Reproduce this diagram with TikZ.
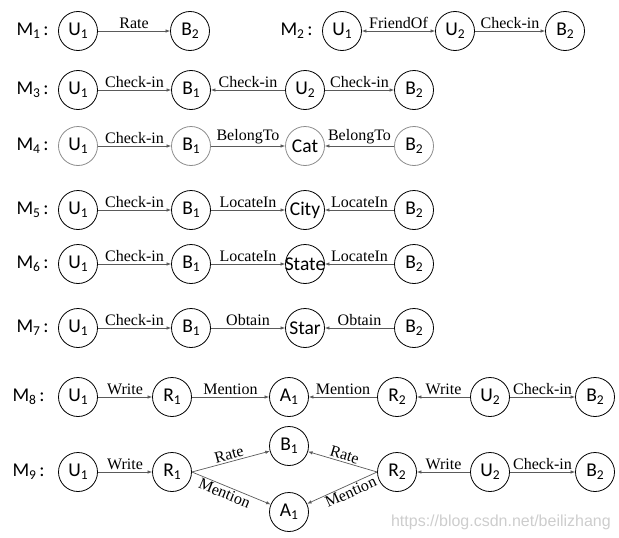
\documentclass[tikz,border=0pt]{standalone}
\usepackage{fontspec}
\setmainfont{Liberation Serif}
\newfontfamily\nodefont{Carlito}
\newfontfamily\markfont{Liberation Sans}
\usetikzlibrary{arrows.meta}
\definecolor{edgegray}{RGB}{90,90,90}
\definecolor{markgray}{RGB}{205,205,205}
\newcommand{\nsub}[1]{\raisebox{-.35ex}{\fontsize{13.5}{13.5}\selectfont #1}}
\tikzset{
 ent/.style={circle,draw,line width=.8pt,minimum size=39pt,inner sep=0pt,
  font=\nodefont\fontsize{19.5}{21}\selectfont},
 rel/.style={->,draw=edgegray,line width=.7pt},
 lab/.style={font=\fontsize{16}{18}\selectfont,inner sep=1.5pt},
 mlab/.style={anchor=west,font=\nodefont\fontsize{19.5}{21}\selectfont}
}

\begin{document}
\begin{tikzpicture}[x=1pt,y=-1pt,>={Latex[length=4.5pt,width=3.5pt]}]
 \useasboundingbox (0,0) rectangle (619,538);

 % M1 and M2 share the top line.
 \node[mlab] at (13,31) {M\nsub{1}\,:};
 \node[ent] (u11) at (78,31) {U\nsub{1}};
 \node[ent] (b12) at (190,31) {B\nsub{2}};
 \draw[rel] (u11) -- (b12) node[midway,above,lab] {Rate};

 \node[mlab] at (277,31) {M\nsub{2}\,:};
 \node[ent] (u21) at (342,31) {U\nsub{1}};
 \node[ent] (u22) at (455,31) {U\nsub{2}};
 \node[ent] (b22) at (565,31) {B\nsub{2}};
 \draw[rel,<->] (u21) -- (u22) node[midway,above,lab] {FriendOf};
 \draw[rel] (u22) -- (b22) node[midway,above,lab] {Check-in};

 % M3: two users checking in.
 \node[mlab] at (13,90) {M\nsub{3}\,:};
 \node[ent] (u31) at (78,90) {U\nsub{1}};
 \node[ent] (b31) at (191,90) {B\nsub{1}};
 \node[ent] (u32) at (305,90) {U\nsub{2}};
 \node[ent] (b32) at (414,90) {B\nsub{2}};
 \draw[rel] (u31) -- (b31) node[midway,above,lab] {Check-in};
 \draw[rel] (u32) -- (b31) node[midway,above,lab] {Check-in};
 \draw[rel] (u32) -- (b32) node[midway,above,lab] {Check-in};

 % M4 to M7 only differ in the shared attribute node.
 \foreach \r/\yy/\hub/\rl/\ring in
  {4/146/Cat/BelongTo/black!45,5/210/City/LocateIn/black,
   6/264/State/LocateIn/black,7/328/Star/Obtain/black}{
  \node[mlab] at (13,\yy) {M\nsub{\r}\,:};
  \node[ent,draw=\ring] (u\r) at (78,\yy) {U\nsub{1}};
  \node[ent,draw=\ring] (b\r) at (191,\yy) {B\nsub{1}};
  \node[ent,draw=\ring] (h\r) at (305,\yy) {\makebox[0pt]{\hub}};
  \node[ent,draw=\ring] (c\r) at (414,\yy) {B\nsub{2}};
  \draw[rel] (u\r) -- (b\r) node[midway,above,lab] {Check-in};
  \draw[rel] (b\r) -- (h\r) node[midway,above,lab] {\rl};
  \draw[rel] (c\r) -- (h\r) node[midway,above,lab] {\rl};
 }

 % M8: reviews mentioning an aspect.
 \node[mlab] at (9,397) {M\nsub{8}\,:};
 \node[ent] (u81) at (78,397) {U\nsub{1}};
 \node[ent] (r81) at (172,397) {R\nsub{1}};
 \node[ent] (a81) at (289,397) {A\nsub{1}};
 \node[ent] (r82) at (397,397) {R\nsub{2}};
 \node[ent] (u82) at (490,397) {U\nsub{2}};
 \node[ent] (b82) at (595,397) {B\nsub{2}};
 \draw[rel] (u81) -- (r81) node[midway,above,lab] {Write};
 \draw[rel] (r81) -- (a81) node[midway,above,lab] {Mention};
 \draw[rel] (r82) -- (a81) node[midway,above,lab] {Mention};
 \draw[rel] (u82) -- (r82) node[midway,above,lab] {Write};
 \draw[rel] (u82) -- (b82) node[midway,above,lab] {Check-in};

 % M9: the reviews split to B1 and A1.
 \node[mlab] at (9,472) {M\nsub{9}\,:};
 \node[ent] (u91) at (78,472) {U\nsub{1}};
 \node[ent] (r91) at (172,472) {R\nsub{1}};
 \node[ent] (b91) at (289,446) {B\nsub{1}};
 \node[ent] (a91) at (289,512) {A\nsub{1}};
 \node[ent] (r92) at (397,472) {R\nsub{2}};
 \node[ent] (u92) at (490,472) {U\nsub{2}};
 \node[ent] (b92) at (595,472) {B\nsub{2}};
 \draw[rel] (u91) -- (r91) node[midway,above,lab] {Write};
 \draw[rel] (r91.east) -- (b91) node[midway,sloped,above,lab] {Rate};
 \draw[rel] (r91.east) -- (a91) node[pos=.45,sloped,below,lab] {Mention};
 \draw[rel] (r92.west) -- (b91) node[midway,sloped,above,lab] {Rate};
 \draw[rel] (r92.west) -- (a91) node[pos=.42,sloped,below,lab] {Mention};
 \draw[rel] (u92) -- (r92) node[midway,above,lab] {Write};
 \draw[rel] (u92) -- (b92) node[midway,above,lab] {Check-in};

 \node[anchor=base east,text=markgray,inner sep=0pt,
  font=\markfont\fontsize{16}{18}\selectfont] (mark) at (611,526)
  {https://blog.csdn.net/beilizhang};
\end{tikzpicture}
\end{document}
